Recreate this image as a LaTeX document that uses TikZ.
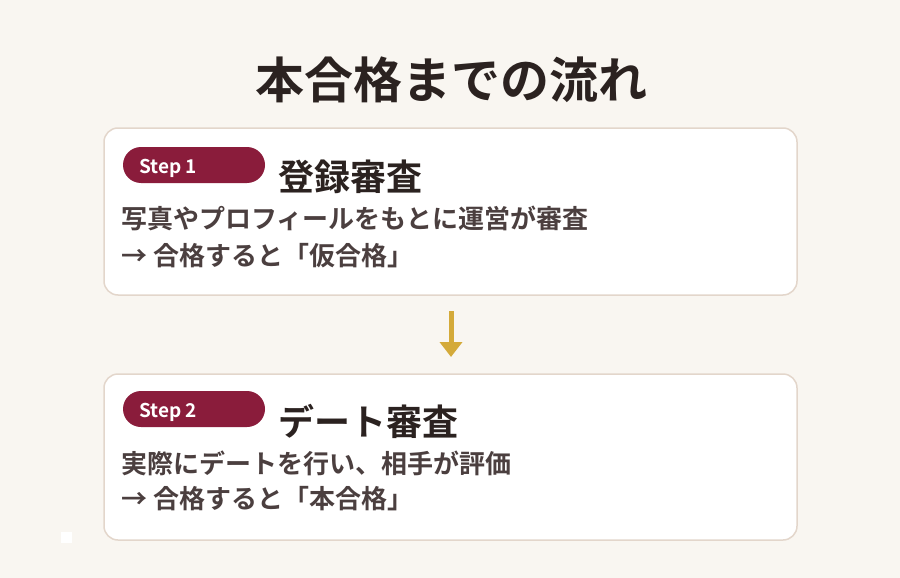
\documentclass[tikz,border=0pt]{standalone}
\usepackage{fontspec}
\setmainfont{Noto Sans CJK JP}[BoldFont={* Bold}]
\newfontfamily\jpb{Noto Sans CJK JP Bold}
\usetikzlibrary{arrows.meta}
\definecolor{bgc}{HTML}{F9F6F1}
\definecolor{bordc}{HTML}{E3D6CB}
\definecolor{badgec}{HTML}{8A1C3B}
\definecolor{headc}{HTML}{2B2220}
\definecolor{bodyc}{HTML}{4B3F3F}
\definecolor{goldc}{HTML}{D4AA3A}
\tikzset{
  card/.style={draw=bordc, line width=1.5pt, fill=white, rounded corners=14pt},
  badge/.style={fill=badgec, rounded corners=18pt},
  badgetxt/.style={anchor=west, text=white, font=\jpb\fontsize{19}{22}\selectfont, inner sep=0pt},
  titletxt/.style={anchor=west, text=headc, font=\jpb\fontsize{36}{40}\selectfont, inner sep=0pt},
  bodytxt/.style={anchor=west, text=bodyc, font=\jpb\fontsize{26}{30}\selectfont, inner sep=0pt},
}
\begin{document}
\begin{tikzpicture}[x=1pt,y=-1pt]
\fill[bgc] (0,0) rectangle (900,578);
\useasboundingbox (0,0) rectangle (900,578);
\node[text=headc, font=\jpb\fontsize{49}{56}\selectfont, inner sep=0pt] (head) at (451,80) {本合格までの流れ};
% card 1
\draw[card] (104,128) rectangle (797,295);
\fill[badge] (123,147) rectangle (265,183);
\node[badgetxt] (b1) at (139,168) {Step 1};
\node[titletxt] (t1) at (278,177) {登録審査};
\node[bodytxt] (l1a) at (121,218) {写真やプロフィールをもとに運営が審査};
\node[bodytxt] (l1b) at (121,256) {→ 合格すると「仮合格」};
% card 2
\draw[card] (104,374) rectangle (797,540);
\fill[badge] (123,391) rectangle (265,427);
\node[badgetxt] (b2) at (139,412) {Step 2};
\node[titletxt] (t2) at (278,421) {デート審査};
\node[bodytxt] (l2a) at (121,463) {実際にデートを行い、相手が評価};
\node[bodytxt] (l2b) at (121,499) {→ 合格すると「本合格」};
% arrow
\coordinate (a1) at (451,311);
\coordinate (a2) at (451,357);
\draw[goldc, line width=5pt, -{Triangle[width=22pt,length=15pt]}] (a1) -- (a2);
% small square
\fill[white] (61,532) rectangle (72,543);
\end{tikzpicture}
\end{document}
